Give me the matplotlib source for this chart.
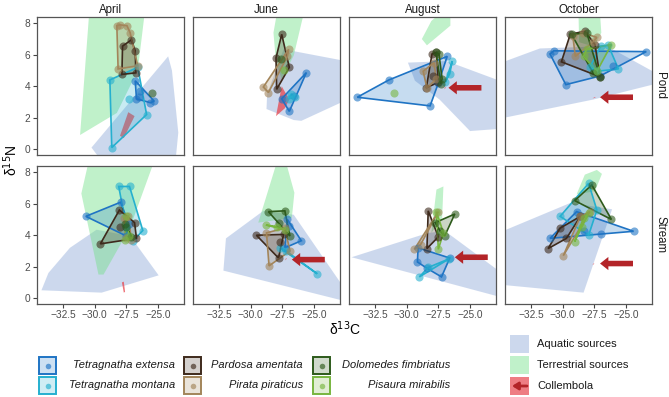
import matplotlib.pyplot as plt
from matplotlib.patches import Polygon, Rectangle

plt.rcParams['font.family'] = ['Liberation Sans', 'DejaVu Sans']

months = ["April", "June", "August", "October"]
habitats = ["Pond", "Stream"]
xticks = [-32.5, -30.0, -27.5, -25.0]
yticks = [0, 2, 4, 6, 8]

# isotope values (d13C, d15N) per spider species, keyed by (habitat, month)
t_extensa = {
    ("Pond", "April"): [(-26.8, 4.35), (-26.4, 3.7), (-25.3, 3.05), (-25.6, 2.95), (-26.7, 3.2), (-26.5, 3.3)],
    ("Pond", "June"): [(-25.6, 4.87), (-27.55, 3.2), (-26.95, 2.4), (-26.6, 3.4)],
    ("Pond", "August"): [(-33.9, 3.3), (-31.4, 4.4), (-26.8, 5.9), (-28.15, 2.75), (-27.5, 4.2)],
    ("Pond", "October"): [(-31.0, 6.05), (-30.7, 6.25), (-23.4, 6.2), (-27.05, 4.65), (-29.75, 4.1), (-26.0, 5.3)],
    ("Stream", "April"): [(-30.7, 5.2), (-27.95, 6.1), (-27.5, 3.95), (-27.3, 4.7)],
    ("Stream", "June"): [(-27.1, 5.0), (-26.0, 3.65), (-27.3, 3.2), (-27.0, 4.6)],
    ("Stream", "August"): [(-29.1, 3.2), (-29.15, 2.3), (-27.25, 1.35), (-26.6, 2.55), (-28.4, 1.9)],
    ("Stream", "October"): [(-31.0, 3.8), (-28.9, 5.5), (-24.4, 4.25), (-27.0, 4.1), (-28.3, 4.3)],
}
t_montana = {
    ("Pond", "April"): [(-28.65, 0.1), (-28.8, 4.4), (-26.6, 5.2), (-25.9, 2.2), (-27.3, 3.2)],
    ("Pond", "June"): [(-27.0, 3.2), (-26.5, 3.3), (-26.8, 3.5)],
    ("Pond", "August"): [(-26.95, 4.25), (-26.4, 5.6), (-26.6, 4.8)],
    ("Pond", "October"): [(-27.85, 5.2), (-27.0, 6.55), (-26.4, 6.6), (-25.6, 5.1), (-27.3, 4.95)],
    ("Stream", "April"): [(-28.1, 7.1), (-27.25, 7.1), (-26.2, 4.3), (-26.95, 3.65), (-27.5, 4.5)],
    ("Stream", "June"): [(-27.7, 3.2), (-24.75, 1.55), (-27.2, 3.0)],
    ("Stream", "August"): [(-29.0, 1.35), (-28.3, 1.95), (-26.65, 2.5)],
    ("Stream", "October"): [(-30.2, 5.2), (-27.95, 7.3), (-27.3, 5.6), (-27.95, 4.0)],
}
p_amentata = {
    ("Pond", "April"): [(-27.8, 6.55), (-27.1, 6.95), (-26.8, 6.25), (-26.75, 4.85), (-27.85, 4.75)],
    ("Pond", "June"): [(-27.55, 7.3), (-27.95, 3.8), (-26.95, 5.2), (-28.0, 5.8)],
    ("Pond", "August"): [(-28.0, 6.05), (-27.65, 6.15), (-28.45, 3.9), (-27.5, 4.25), (-27.9, 4.65)],
    ("Pond", "October"): [(-29.4, 7.3), (-28.25, 7.5), (-27.45, 6.65), (-27.05, 4.6), (-30.1, 5.55)],
    ("Stream", "April"): [(-29.55, 3.45), (-28.05, 5.6), (-26.7, 3.8), (-26.85, 4.8), (-28.0, 4.5)],
    ("Stream", "June"): [(-29.55, 4.0), (-27.4, 4.05), (-27.8, 2.55), (-27.7, 3.6)],
    ("Stream", "August"): [(-28.3, 5.55), (-27.5, 3.9), (-28.4, 3.15)],
    ("Stream", "October"): [(-31.15, 3.15), (-30.2, 4.45), (-28.6, 5.2), (-29.7, 3.8)],
}
p_piraticus = {
    ("Pond", "April"): [(-28.25, 7.85), (-27.45, 7.85), (-27.2, 7.4), (-26.6, 5.3), (-28.15, 5.1), (-28.0, 7.9)],
    ("Pond", "June"): [(-29.0, 3.95), (-27.0, 6.35), (-27.1, 5.9), (-28.6, 3.6)],
    ("Pond", "August"): [(-28.7, 4.95), (-28.4, 3.9), (-27.65, 4.45), (-27.85, 5.5)],
    ("Pond", "October"): [(-29.2, 7.2), (-28.4, 7.4), (-27.6, 6.8), (-27.3, 7.1), (-29.0, 5.9)],
    ("Stream", "April"): [(-27.7, 5.1), (-27.35, 5.2), (-27.1, 3.7), (-27.55, 3.8)],
    ("Stream", "June"): [(-28.75, 4.15), (-28.55, 2.05), (-26.9, 3.0), (-27.3, 4.45)],
    ("Stream", "August"): [(-29.4, 3.1), (-27.5, 5.5), (-28.9, 3.4)],
    ("Stream", "October"): [(-29.95, 2.7), (-28.6, 5.2), (-27.85, 5.5)],
}
d_fimbriatus = {
    ("Pond", "April"): [(-25.45, 3.6)],
    ("Pond", "June"): [(-27.6, 5.7)],
    ("Pond", "August"): [(-27.7, 6.15), (-27.45, 6.05), (-27.3, 4.15), (-27.2, 4.45)],
    ("Pond", "October"): [(-29.3, 7.3), (-28.1, 7.4), (-27.05, 4.6), (-27.6, 4.85)],
    ("Stream", "April"): [(-27.6, 4.7), (-27.5, 4.5), (-27.1, 3.9)],
    ("Stream", "June"): [(-28.6, 5.5), (-27.3, 5.55), (-26.9, 3.95), (-27.8, 4.8)],
    ("Stream", "August"): [(-27.75, 4.8), (-26.2, 5.35), (-27.35, 4.25), (-27.0, 3.95)],
    ("Stream", "October"): [(-29.05, 6.2), (-27.7, 7.2), (-26.15, 5.0)],
}
p_mirabilis = {
    ("Pond", "June"): [(-27.4, 5.0)],
    ("Pond", "August"): [(-31.0, 3.6)],
    ("Pond", "October"): [(-28.1, 6.35), (-26.15, 6.65), (-27.3, 4.95), (-28.35, 5.9)],
    ("Stream", "April"): [(-27.5, 5.2), (-27.3, 3.95), (-27.6, 3.7)],
    ("Stream", "June"): [(-28.8, 4.65), (-27.95, 4.55), (-27.3, 4.35)],
    ("Stream", "August"): [(-27.65, 5.5), (-27.1, 4.15), (-27.5, 3.1)],
    ("Stream", "October"): [(-29.05, 3.6), (-28.35, 5.1), (-27.95, 5.4), (-28.5, 4.5)],
}

# source areas (polygon outlines)
aquatic = {
    ("Pond", "April"): [(-30.25, 0.1), (-24.2, 5.9), (-23.9, 5.0), (-23.4, 1.05), (-23.6, -0.6), (-29.6, -0.6)],
    ("Pond", "June"): [(-28.75, 2.55), (-28.7, 3.5), (-27.4, 6.35), (-22.5, 5.6), (-22.5, 3.1), (-26.0, 1.8), (-26.6, 1.85)],
    ("Pond", "August"): [(-29.9, 5.5), (-26.85, 5.6), (-22.5, 4.3), (-22.5, 1.3), (-25.0, 1.15), (-27.4, 3.15), (-29.35, 4.35)],
    ("Pond", "October"): [(-35.5, 5.3), (-31.8, 6.4), (-26.5, 6.55), (-22.9, 4.95), (-22.9, 4.1), (-27.6, 3.15), (-35.5, 1.85)],
    ("Stream", "April"): [(-34.2, 0.5), (-33.65, 1.6), (-31.95, 3.2), (-29.85, 4.35), (-27.2, 3.95), (-24.95, 1.45), (-29.45, 0.35)],
    ("Stream", "June"): [(-32.15, 1.75), (-31.95, 3.8), (-29.0, 5.55), (-26.6, 5.3), (-22.5, 0.5), (-22.5, -0.2)],
    ("Stream", "August"): [(-34.35, 2.6), (-28.3, 4.15), (-26.95, 4.25), (-22.5, 1.6), (-22.5, 0.05)],
    ("Stream", "October"): [(-35.5, 4.0), (-29.4, 6.05), (-26.1, 5.65), (-28.35, 0.35), (-35.5, 0.9)],
}
terrestrial = {
    ("Pond", "April"): [(-30.4, 9.0), (-26.0, 9.0), (-26.6, 5.0), (-28.25, 2.3), (-31.15, 0.9)],
    ("Pond", "June"): [(-28.2, 7.4), (-27.85, 9.0), (-25.7, 9.0), (-26.6, 5.95), (-27.55, 4.45), (-28.0, 5.5)],
    ("Pond", "August"): [(-28.8, 7.0), (-28.05, 8.15), (-27.4, 8.6), (-26.55, 8.6), (-26.55, 7.85), (-28.4, 6.6)],
    ("Pond", "October"): [(-28.75, 8.6), (-27.05, 8.6), (-26.95, 7.4), (-27.5, 6.5), (-28.7, 6.8)],
    ("Stream", "April"): [(-31.05, 6.65), (-30.5, 8.6), (-25.35, 8.6), (-27.2, 4.5), (-29.3, 1.5), (-29.7, 1.5)],
    ("Stream", "June"): [(-29.4, 4.8), (-27.95, 8.6), (-27.2, 8.6), (-26.55, 6.7), (-26.75, 5.1)],
    ("Stream", "August"): [(-28.05, 4.15), (-27.65, 6.9), (-27.1, 7.1), (-27.2, 5.1)],
    ("Stream", "October"): [(-28.9, 6.6), (-28.25, 7.85), (-27.3, 8.15), (-26.9, 7.9), (-27.45, 6.8)],
}
collembola = {
    ("Pond", "April"): [(-28.0, 0.85), (-27.35, 2.35), (-26.85, 2.1), (-27.7, 0.7)],
    ("Pond", "June"): [(-28.0, 2.1), (-27.55, 4.0), (-26.95, 3.15), (-27.3, 2.6)],
    ("Pond", "August"): [(-27.05, 3.8), (-26.95, 3.95), (-26.9, 3.9)],
    ("Pond", "October"): [(-27.65, 3.22), (-27.45, 3.32), (-27.4, 3.28)],
    ("Stream", "April"): [(-27.85, 1.0), (-27.7, 1.05), (-27.6, 0.4), (-27.7, 0.35)],
    ("Stream", "June"): [(-27.3, 2.4), (-27.2, 2.55), (-27.15, 2.5)],
    ("Stream", "October"): [(-27.65, 2.1), (-27.55, 2.22), (-27.5, 2.18)],
}
# arrow tips pointing at collembola
arrow_tip = {
    ("Pond", "August"): (-26.7, 3.9),
    ("Pond", "October"): (-27.05, 3.3),
    ("Stream", "June"): (-26.75, 2.45),
    ("Stream", "August"): (-26.2, 2.6),
    ("Stream", "October"): (-27.05, 2.2),
}

species = [
    ("Tetragnatha extensa", t_extensa, "#1f74c4"),
    ("Tetragnatha montana", t_montana, "#25b0cf"),
    ("Pardosa amentata", p_amentata, "#3e2a1c"),
    ("Pirata piraticus", p_piraticus, "#a3855a"),
    ("Dolomedes fimbriatus", d_fimbriatus, "#2d5a1b"),
    ("Pisaura mirabilis", p_mirabilis, "#78b63f"),
]
aq_col = "#9bb3dd"
tr_col = "#74e08a"
co_col = "#e8464e"
arrow_col = "#b32428"


def convex_hull(pts):
    pts = sorted(set(pts))
    if len(pts) < 3:
        return pts

    def cross(o, a, b):
        return (a[0] - o[0]) * (b[1] - o[1]) - (a[1] - o[1]) * (b[0] - o[0])
    lower, upper = [], []
    for p in pts:
        while len(lower) >= 2 and cross(lower[-2], lower[-1], p) <= 0:
            lower.pop()
        lower.append(p)
    for p in reversed(pts):
        while len(upper) >= 2 and cross(upper[-2], upper[-1], p) <= 0:
            upper.pop()
        upper.append(p)
    return lower[:-1] + upper[:-1]


W, H = 669, 397
fig = plt.figure(figsize=(W / 100, H / 100), dpi=100)

col_left = [37, 193, 349, 505]
row_top = [17, 166]
pw, ph = 147, 137.5

for r, hab in enumerate(habitats):
    for c, mon in enumerate(months):
        ax = fig.add_axes([col_left[c] / W, 1 - (row_top[r] + ph) / H, pw / W, ph / H])
        key = (hab, mon)
        if key in aquatic:
            ax.add_patch(Polygon(aquatic[key], closed=True, fc=aq_col, ec='none', alpha=0.5, zorder=1))
        if key in terrestrial:
            ax.add_patch(Polygon(terrestrial[key], closed=True, fc=tr_col, ec='none', alpha=0.45, zorder=1.1))
        if key in collembola:
            ax.add_patch(Polygon(collembola[key], closed=True, fc=co_col, ec='none', alpha=0.75, zorder=1.2))
        for name, data, col in species:
            pts = data.get(key, [])
            if not pts:
                continue
            h = convex_hull(pts)
            if len(h) >= 3:
                ax.add_patch(Polygon(h, closed=True, fc=col, ec='none', alpha=0.25, zorder=2))
                ax.add_patch(Polygon(h, closed=True, fc='none', ec=col, lw=1.2, zorder=3))
            elif len(h) == 2:
                ax.plot([p[0] for p in h], [p[1] for p in h], color=col, lw=1.2, zorder=3)
            ax.scatter([p[0] for p in pts], [p[1] for p in pts], s=34, color=col,
                       alpha=0.6, linewidths=0, zorder=4)
        if key in arrow_tip:
            tx, ty = arrow_tip[key]
            ax.annotate('', xy=(tx, ty), xytext=(tx + 2.6, ty),
                        arrowprops=dict(arrowstyle='simple,head_length=0.6,head_width=0.95,tail_width=0.4',
                                        color=arrow_col, lw=0, mutation_scale=10,
                                        shrinkA=0, shrinkB=0), zorder=5)

        ax.set_xlim(-34.55, -22.95)
        ax.set_ylim(-0.34, 8.4)
        ax.set_xticks(xticks)
        ax.set_yticks(yticks)
        for s in ax.spines.values():
            s.set_color('#555555')
            s.set_linewidth(0.9)
        ax.tick_params(length=3, width=0.8, color='#444444', labelsize=7.3,
                       labelcolor='#4d4d4d', pad=2)
        if r == 1:
            ax.set_xticklabels([f"{v:.1f}".replace('-', '\u2212') for v in xticks])
        else:
            ax.tick_params(axis='x', length=0, labelbottom=False)
        if c == 0:
            ax.set_yticklabels([str(v) for v in yticks])
        else:
            ax.tick_params(axis='y', length=0, labelleft=False)
        if r == 0:
            ax.set_title(mon, fontsize=8.3, color='#1a1a1a', pad=3)
        if c == 3:
            ax.text(1.055, 0.5, hab, transform=ax.transAxes, rotation=270,
                    ha='center', va='center', fontsize=8.3, color='#1a1a1a')

# overlay in pixel coordinates for axis titles and legends
lax = fig.add_axes([0, 0, 1, 1])
lax.set_xlim(0, W)
lax.set_ylim(H, 0)
lax.axis('off')

lax.text(345, 329, 'δ$^{13}$C', ha='center', va='center', fontsize=10)
lax.text(11, 160, 'δ$^{15}$N', ha='center', va='center', fontsize=10, rotation=90)

key_x = [38, 183, 312]
text_right = [175, 303, 450]
key_y = [356, 376]
for i, (name, data, col) in enumerate(species):
    ci, ri = i // 2, i % 2
    x0, y0 = key_x[ci], key_y[ri]
    lax.add_patch(Rectangle((x0, y0), 19, 19, fc='white', ec='none'))
    lax.add_patch(Rectangle((x0 + 1, y0 + 1), 17, 17, fc=col, alpha=0.22, ec='none'))
    lax.add_patch(Rectangle((x0 + 1, y0 + 1), 17, 17, fc='none', ec=col, lw=1.4))
    lax.plot(x0 + 9.5, y0 + 9.5, 'o', ms=4, color=col, alpha=0.65, mec='none')
    lax.text(text_right[ci], y0 + 9.5, name, ha='right', va='center', fontsize=8,
             style='italic', color='#1a1a1a')

src_y = [335, 356, 377]
src = [("Aquatic sources", aq_col, 0.5), ("Terrestrial sources", tr_col, 0.45), ("Collembola", co_col, 0.7)]
for (lab, col, a), y0 in zip(src, src_y):
    lax.add_patch(Rectangle((510, y0), 19, 18, fc=col, alpha=a, ec='none'))
    lax.text(537, y0 + 9, lab, ha='left', va='center', fontsize=8, color='#1a1a1a')
lax.annotate('', xy=(512, src_y[2] + 9), xytext=(527, src_y[2] + 9),
             arrowprops=dict(arrowstyle='-|>,head_length=0.35,head_width=0.22', color=arrow_col,
                             lw=2, shrinkA=0, shrinkB=0))

fig.savefig('out.png', dpi=100)
